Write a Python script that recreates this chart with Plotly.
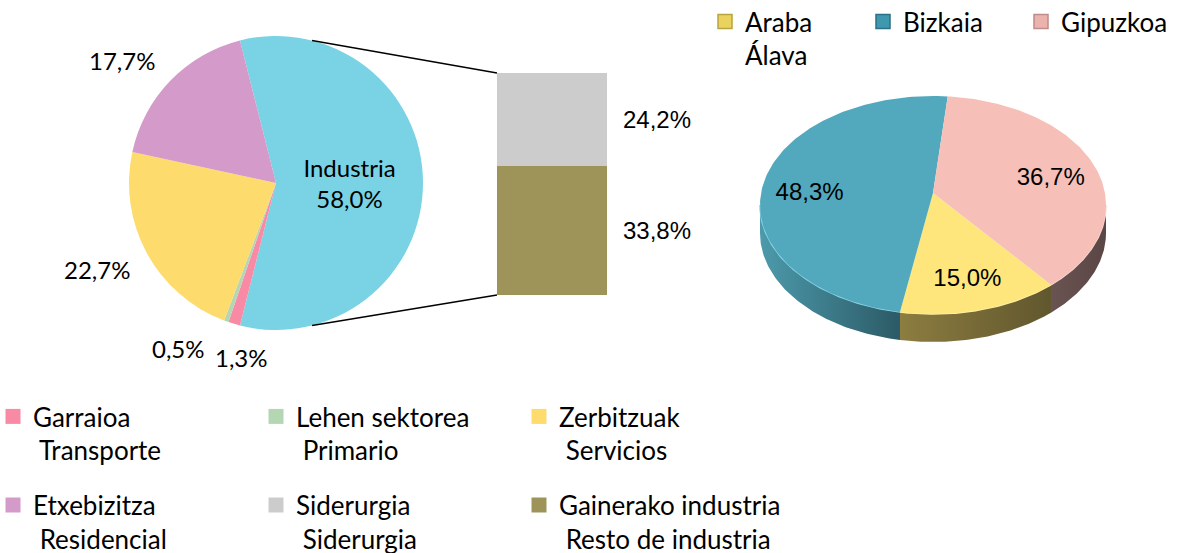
import numpy as np
import plotly.graph_objects as go

W, H = 1182, 553

# ---------------- data ----------------
sector_names = ["Industria", "Garraioa", "Lehen sektorea", "Zerbitzuak", "Etxebizitza"]
sector_names_es = ["Industria", "Transporte", "Primario", "Servicios", "Residencial"]
sector_values = [58.0, 1.3, 0.5, 22.7, 17.7]

industry_names = ["Siderurgia", "Gainerako industria"]
industry_names_es = ["Siderurgia", "Resto de industria"]
industry_values = [24.2, 33.8]

province_names = ["Araba", "Bizkaia", "Gipuzkoa"]
province_names_es = ["Álava", "", ""]
province_values = [15.0, 48.3, 36.7]

# ---------------- styles ----------------
FONT = "Lato"
FONT2 = "Liberation Sans"
FS = 24
FS_LEG = 26
sector_colors = ["#79D3E5", "#F98AA5", "#B4D6B3", "#FDDB6D", "#D39ACA"]
industry_colors = ["#CCCCCC", "#9E945A"]
prov_top = ["#FEE67C", "#52A8BC", "#F6C0B9"]
prov_side = [["#8C7D40", "#61572E"], ["#4C9AAC", "#2C5A66"], ["#6A5452", "#5A4645"]]
prov_rim = ["#FFF2A6", "#8AD6E6", "#FAD6D1"]
prov_legend = ["#E9D25E", "#3F98AE", "#EAB3AE"]
prov_legend_edge = ["#B8A43C", "#2A7185", "#C08C88"]

# geometry (pixels)
PIE_C = (276, 183)
PIE_R = 147
BAR_X = (497, 607)
BAR_Y = (73, 295)
P3_C = (933, 205)
P3_APEX_DY = -12
P3_RX, P3_RY, P3_DEPTH = 173, 109, 28
P3_START = 137.0
P3_LABEL_R = 0.72
# outside label placement: angle offset (deg) and radius factor per slice
LABEL_DA = [0, -5.5, 10.9, 2.7, -5.4]
LABEL_RF = [0, 1.21, 1.305, 1.354, 1.34]
LEG_TEXT_X = [33, 296, 559]
LEG_TOP = 393


def px(x):
    return x / W


def py(y):
    return 1 - y / H


fig = go.Figure()

# ---------------- left pie ----------------
total = sum(sector_values)
half = 180.0 * sector_values[0] / total
rotation = 90 - half

fig.add_trace(go.Pie(
    labels=sector_names,
    values=sector_values,
    sort=False,
    direction="clockwise",
    rotation=rotation,
    marker=dict(colors=sector_colors, line=dict(width=0)),
    texttemplate=["%{label}<br>%{value:.1f}%"] + [""] * (len(sector_values) - 1),
    textposition=["inside"] + ["none"] * (len(sector_values) - 1),
    insidetextorientation="horizontal",
    textfont=dict(family=FONT, size=FS, color="black"),
    domain=dict(x=[px(PIE_C[0] - PIE_R), px(PIE_C[0] + PIE_R)],
                y=[py(PIE_C[1] + PIE_R), py(PIE_C[1] - PIE_R)]),
    showlegend=False,
    hoverinfo="skip",
))

# outside labels of the small slices
cur = rotation
for i, v in enumerate(sector_values):
    span = 360.0 * v / total
    mid = cur + span / 2
    cur += span
    if i == 0:
        continue
    ang = np.radians(mid + LABEL_DA[i])
    lx = PIE_C[0] + LABEL_RF[i] * PIE_R * np.sin(ang)
    ly = PIE_C[1] - LABEL_RF[i] * PIE_R * np.cos(ang)
    fig.add_annotation(x=px(lx), y=py(ly), xref="paper", yref="paper",
                       xanchor="center", yanchor="middle", showarrow=False,
                       text=f"{v:.1f}%".replace(".", ","),
                       font=dict(family=FONT, size=FS, color="black"))

# ---------------- stacked bar (Industria breakdown) ----------------
for i in [1, 0]:  # bottom: Gainerako, top: Siderurgia
    fig.add_trace(go.Bar(
        x=["Industria"], y=[industry_values[i]],
        marker=dict(color=industry_colors[i], line=dict(width=0)),
        xaxis="x", yaxis="y", showlegend=False, hoverinfo="skip",
    ))

cum = 0.0
for i in [1, 0]:
    mid = cum + industry_values[i] / 2
    cum += industry_values[i]
    fig.add_annotation(x=0.5, y=mid, xref="x", yref="y", xanchor="left", yanchor="middle",
                       xshift=14, showarrow=False,
                       text=f"{industry_values[i]:.1f}%".replace(".", ","),
                       font=dict(family=FONT2, size=FS, color="black"))

# connector lines
a = np.radians(half - 90)
top_pt = (PIE_C[0] + PIE_R * np.sin(a), PIE_C[1] - PIE_R * np.cos(a))
bot_pt = (PIE_C[0] + PIE_R * np.sin(np.pi - a), PIE_C[1] - PIE_R * np.cos(np.pi - a))
for (x0, y0), (x1, y1) in [(top_pt, (BAR_X[0], BAR_Y[0])), (bot_pt, (BAR_X[0], BAR_Y[1]))]:
    fig.add_shape(type="line", xref="paper", yref="paper",
                  x0=px(x0), y0=py(y0), x1=px(x1), y1=py(y1),
                  line=dict(color="black", width=1.3))

# ---------------- right 3D pie ----------------
ptotal = sum(province_values)


def ell(t):
    t = np.radians(t)
    return P3_C[0] + P3_RX * np.sin(t), P3_C[1] - P3_RY * np.cos(t)


angles = []
s = P3_START
for v in province_values:
    e = s + 360.0 * v / ptotal
    angles.append((s, e))
    s = e

# sides (front half only: 90..270 deg, clockwise from top)
for i, (a1, a2) in enumerate(angles):
    for off in (0, 360):
        lo, hi = max(a1, 90 + off), min(a2, 270 + off)
        if hi <= lo:
            continue
        t = np.linspace(lo, hi, 80)
        xs, ys = ell(t)
        xs_b, ys_b = xs[::-1], ys[::-1] + P3_DEPTH
        fig.add_trace(go.Scatter(
            x=np.concatenate([xs, xs_b, xs[:1]]), y=np.concatenate([ys, ys_b, ys[:1]]),
            mode="lines", line=dict(width=0), fill="toself",
            fillgradient=dict(type="horizontal",
                              colorscale=[[0, prov_side[i][0]], [1, prov_side[i][1]]]),
            xaxis="x2", yaxis="y2", showlegend=False, hoverinfo="skip",
        ))
        fig.add_trace(go.Scatter(
            x=xs, y=ys, mode="lines", line=dict(width=1.6, color=prov_rim[i]),
            xaxis="x2", yaxis="y2", showlegend=False, hoverinfo="skip",
        ))

# top faces
apex = (P3_C[0], P3_C[1] + P3_APEX_DY)
for i, (a1, a2) in enumerate(angles):
    t = np.linspace(a1, a2, 150)
    xs, ys = ell(t)
    fig.add_trace(go.Scatter(
        x=np.concatenate([[apex[0]], xs, [apex[0]]]),
        y=np.concatenate([[apex[1]], ys, [apex[1]]]),
        mode="lines", line=dict(width=0), fill="toself", fillcolor=prov_top[i],
        xaxis="x2", yaxis="y2", showlegend=False, hoverinfo="skip",
    ))

# labels
lx, ly, lt = [], [], []
for i, (a1, a2) in enumerate(angles):
    m = np.radians((a1 + a2) / 2)
    lx.append(P3_C[0] + P3_LABEL_R * P3_RX * np.sin(m))
    ly.append(P3_C[1] - P3_LABEL_R * P3_RY * np.cos(m))
    lt.append(f"{province_values[i]:.1f}%".replace(".", ","))
fig.add_trace(go.Scatter(x=lx, y=ly, text=lt, mode="text",
                         textfont=dict(family=FONT2, size=FS, color="black"),
                         xaxis="x2", yaxis="y2", showlegend=False, hoverinfo="skip"))

# ---------------- legends ----------------
legend_items = []
for i in range(1, len(sector_names)):
    legend_items.append((f"{sector_names[i]}<br>\u00a0{sector_names_es[i]}", sector_colors[i]))
for i in range(len(industry_names)):
    legend_items.append((f"{industry_names[i]}<br>\u00a0{industry_names_es[i]}", industry_colors[i]))

legend_ids = ["legend", "legend2", "legend3"]
for k, (name, col) in enumerate(legend_items):
    fig.add_trace(go.Scatter(
        x=[None], y=[None], mode="markers", name=name,
        marker=dict(symbol="square", size=15, color=col, line=dict(width=0)),
        legend=legend_ids[k % 3], legendgroup=f"g{k}", legendrank=k,
        xaxis="x2", yaxis="y2", hoverinfo="skip",
    ))

for i, nm in enumerate(province_names):
    label = nm + (f"<br>{province_names_es[i]}" if province_names_es[i] else "")
    fig.add_trace(go.Scatter(
        x=[None], y=[None], mode="markers", name=label,
        marker=dict(symbol="square", size=14, color=prov_legend[i],
                    line=dict(width=1.5, color=prov_legend_edge[i])),
        legend="legend4", legendrank=i,
        xaxis="x2", yaxis="y2", hoverinfo="skip",
    ))

leg_common = dict(font=dict(family=FONT, size=FS_LEG, color="black"), bgcolor="rgba(0,0,0,0)",
                  valign="top", xanchor="left", yanchor="top", borderwidth=0)
layout_legends = {}
for j, lid in enumerate(legend_ids):
    layout_legends[lid] = dict(leg_common, x=px(LEG_TEXT_X[j] - 40), y=py(LEG_TOP),
                               orientation="v", tracegroupgap=18, traceorder="grouped")
layout_legends["legend4"] = dict(leg_common, x=px(745 - 40), y=py(-2), orientation="h",
                                 entrywidth=113, entrywidthmode="pixels")

fig.update_layout(
    width=W, height=H,
    margin=dict(l=0, r=0, t=0, b=0, autoexpand=False),
    paper_bgcolor="white", plot_bgcolor="rgba(0,0,0,0)",
    separators=",.",
    barmode="stack", bargap=0,
    hovermode=False,
    font=dict(family=FONT, size=FS, color="black"),
    xaxis=dict(domain=[px(BAR_X[0]), px(BAR_X[1])], type="category", range=[-0.5, 0.5],
               visible=False, anchor="y", fixedrange=True),
    yaxis=dict(domain=[py(BAR_Y[1]), py(BAR_Y[0])], range=[0, sum(industry_values)],
               visible=False, anchor="x", fixedrange=True),
    xaxis2=dict(domain=[0, 1], range=[0, W], visible=False, anchor="y2", fixedrange=True),
    yaxis2=dict(domain=[0, 1], range=[H, 0], visible=False, anchor="x2", fixedrange=True),
    **layout_legends,
)

fig.write_html(
    "out.html",
    config={"displayModeBar": False, "staticPlot": True},
    post_script="document.body.style.margin='0';document.body.style.padding='0';"
                "document.body.style.overflow='hidden';",
)
